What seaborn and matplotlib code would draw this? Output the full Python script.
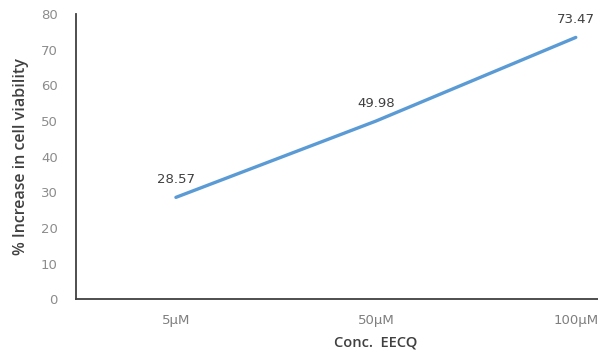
import matplotlib
matplotlib.use("Agg")
import matplotlib.pyplot as plt
import seaborn as sns
import pandas as pd

categories = ["5µM", "50µM", "100µM"]
values = [28.57, 49.98, 73.47]
yticks = [0, 10, 20, 30, 40, 50, 60, 70, 80]

sns.set_theme(style="white")
plt.rcParams['font.family'] = ['DejaVu Sans']

df = pd.DataFrame({"conc": categories, "val": values})
fig = plt.figure(figsize=(5.98, 3.54), dpi=100)
ax = fig.add_axes([0.127, 0.155, 1.003, 0.805])
sns.lineplot(data=df, x="conc", y="val", ax=ax, color="#5B9BD5", linewidth=2.4, sort=False)
ax.set_xlim(-0.5, 2.5)
ax.set_ylim(0, 80)
ax.set_yticks(yticks)
ax.tick_params(axis='y', length=0, labelsize=9.5, colors="#8c8c8c", pad=13)
ax.tick_params(axis='x', length=0, labelsize=9.5, colors="#7f7f7f", pad=11)
for s in ["top", "right"]:
    ax.spines[s].set_visible(False)
for s in ["left", "bottom"]:
    ax.spines[s].set_color("#404040")
    ax.spines[s].set_linewidth(1.3)
for i, v in enumerate(values):
    ax.annotate(f"{v:.2f}", (i, v), xytext=(0, 8), textcoords="offset points",
                ha="center", va="bottom", fontsize=9.5, color="#404040")
ax.set_xlabel("Conc.  EECQ", fontsize=10.5, color="#404040", labelpad=6,
              family=["Open Sans", "DejaVu Sans"], fontweight="semibold")
ax.set_ylabel("% Increase in cell viability", fontsize=11.5, color="#404040", labelpad=9,
              family=["Open Sans", "DejaVu Sans"], fontweight="semibold")
fig.savefig("out.png", dpi=100)
